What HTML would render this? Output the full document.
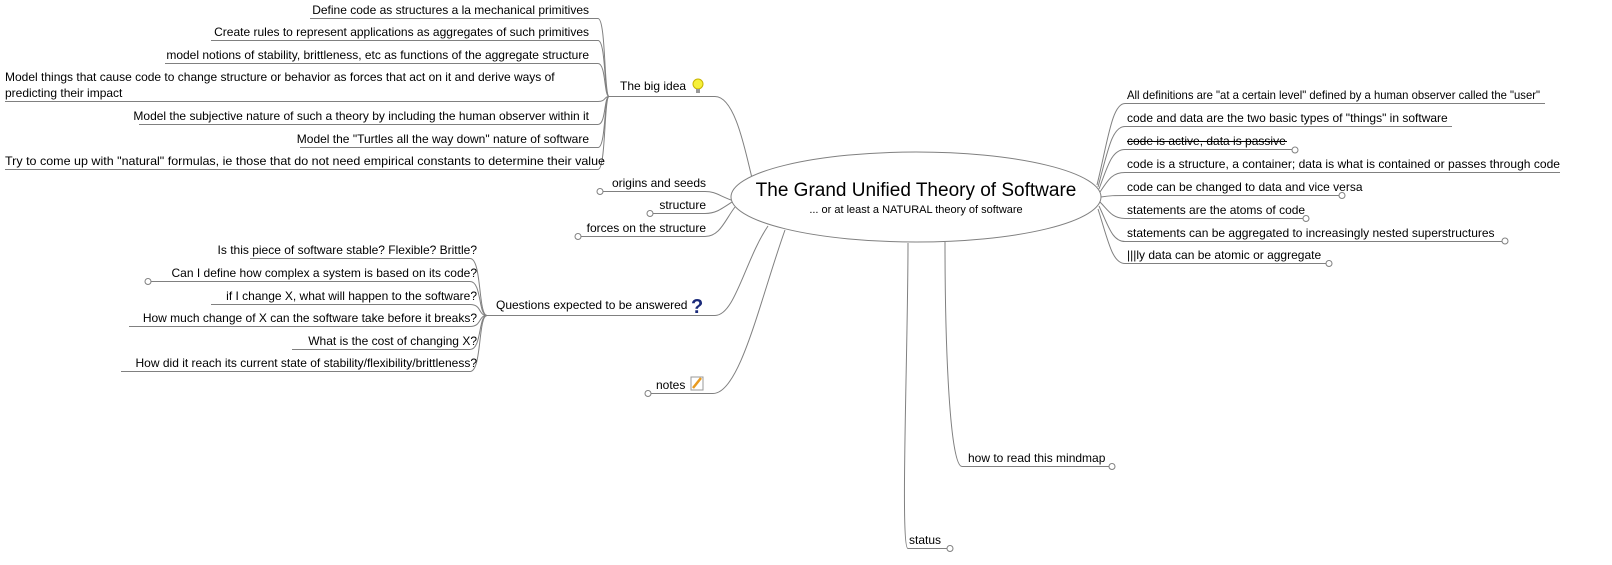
<!DOCTYPE html>
<html><head><meta charset="utf-8"><style>
html,body{margin:0;padding:0;background:#fff;}
svg{display:block;}
text{font-family:"Liberation Sans",Arial,sans-serif;font-size:12px;fill:#000;}
.l{fill:none;stroke:#808080;stroke-width:1;}
.c{fill:#fff;stroke:#808080;stroke-width:1;}
</style></head><body>
<svg width="1612" height="565" viewBox="0 0 1612 565" xmlns="http://www.w3.org/2000/svg">
<g class="l">
<path d="M310,18.5 H598 C606,18.5 604,96.5 609,96.5"/>
<path d="M211,40.5 H598 C606,40.5 604,96.5 609,96.5"/>
<path d="M165,63.5 H598 C606,63.5 604,96.5 609,96.5"/>
<path d="M5,101.5 H598 C606,101.5 604,96.5 609,96.5"/>
<path d="M139,124.5 H598 C606,124.5 604,96.5 609,96.5"/>
<path d="M300,147.5 H598 C606,147.5 604,96.5 609,96.5"/>
<path d="M5,169.5 H598 C606,169.5 604,96.5 609,96.5"/>
<path d="M609,96.5 H715 C735,96.5 745,150 752,178"/>
<path d="M603,191.5 H705 C715,191.5 718,195 731,200"/>
<path d="M653,213.5 H705 C715,213.5 720,210 732,202"/>
<path d="M581,236.5 H705 C720,236.5 725,220 735,207"/>
<path d="M715,315.5 C735,315.5 745,260 768,226"/>
<path d="M487,315.5 H715"/>
<path d="M250,258.5 H470 C482,258.5 478,315.5 487,315.5"/>
<path d="M151,281.5 H470 C482,281.5 478,315.5 487,315.5"/>
<path d="M211,304.5 H470 C482,304.5 478,315.5 487,315.5"/>
<path d="M129,326.5 H470 C482,326.5 478,315.5 487,315.5"/>
<path d="M292,349.5 H470 C482,349.5 478,315.5 487,315.5"/>
<path d="M121,371.5 H470 C482,371.5 478,315.5 487,315.5"/>
<path d="M651,393.5 H713 C740,393.5 760,300 785,230"/>
<path d="M945,242 C945,350 950,466.5 962,466.5 H1109"/>
<path d="M908,243 C908,350 900,548.5 908,548.5 H947"/>
<path d="M1097,185 C1108,140 1112,103.5 1125,103.5 H1545"/>
<path d="M1098,187 C1108,150 1112,126.5 1125,126.5 H1452"/>
<path d="M1099,189 C1108,165 1112,149.5 1125,149.5 H1292"/>
<path d="M1100,192 C1108,180 1112,172.5 1125,172.5 H1560"/>
<path d="M1101,197 C1110,195.5 1115,195.5 1125,195.5 H1339"/>
<path d="M1100,202 C1108,210 1112,218.5 1125,218.5 H1303"/>
<path d="M1099,206 C1108,225 1112,241.5 1125,241.5 H1502"/>
<path d="M1098,209 C1108,240 1112,263.5 1125,263.5 H1326"/>
</g>
<ellipse cx="916" cy="197" rx="185" ry="45" fill="#fff" stroke="#808080"/>
<g class="c">
<circle cx="600" cy="191.5" r="3"/><circle cx="650" cy="213.5" r="3"/><circle cx="578" cy="236.5" r="3"/>
<circle cx="148" cy="281.5" r="3"/><circle cx="648" cy="393.5" r="3"/>
<circle cx="1112" cy="466.5" r="3"/><circle cx="950" cy="548.5" r="3"/>
<circle cx="1295" cy="150" r="3"/><circle cx="1342" cy="195.5" r="3"/><circle cx="1306" cy="218.5" r="3"/>
<circle cx="1505" cy="241" r="3"/><circle cx="1329" cy="263.5" r="3"/>
</g>
<text x="916" y="196" text-anchor="middle" style="font-size:19px">The Grand Unified Theory of Software</text>
<text x="916" y="213" text-anchor="middle" style="font-size:11px">... or at least a NATURAL theory of software</text>
<g text-anchor="end">
<text x="589" y="14">Define code as structures a la mechanical primitives</text>
<text x="589" y="36">Create rules to represent applications as aggregates of such primitives</text>
<text x="589" y="59">model notions of stability, brittleness, etc as functions of the aggregate structure</text>
<text x="589" y="120">Model the subjective nature of such a theory by including the human observer within it</text>
<text x="589" y="143">Model the "Turtles all the way down" nature of software</text>
<text x="706" y="187">origins and seeds</text>
<text x="706" y="209">structure</text>
<text x="706" y="232">forces on the structure</text>
<text x="477" y="254">Is this piece of software stable? Flexible? Brittle?</text>
<text x="477" y="277">Can I define how complex a system is based on its code?</text>
<text x="477" y="300">if I change X, what will happen to the software?</text>
<text x="477" y="322">How much change of X can the software take before it breaks?</text>
<text x="477" y="345">What is the cost of changing X?</text>
<text x="477" y="367">How did it reach its current state of stability/flexibility/brittleness?</text>
</g>
<text x="5" y="165" textLength="600" lengthAdjust="spacingAndGlyphs">Try to come up with "natural" formulas, ie those that do not need empirical constants to determine their value</text>
<text x="5" y="81">Model things that cause code to change structure or behavior as forces that act on it and derive ways of</text>
<text x="5" y="97">predicting their impact</text>
<text x="620" y="90">The big idea</text>
<circle cx="698" cy="84" r="5" fill="#f6f03a" stroke="#c8b400"/><rect x="696" y="89" width="4" height="4" fill="#999"/>
<text x="496" y="309">Questions expected to be answered</text>
<text x="691" y="313" style="font-size:20px;font-weight:bold;fill:#1a2a7a">?</text>
<text x="656" y="389">notes</text>
<rect x="691" y="377" width="12" height="13" fill="#fff" stroke="#999"/><path d="M693,388 L701,378" stroke="#e89a20" stroke-width="2.5"/>
<text x="968" y="462">how to read this mindmap</text>
<text x="909" y="544">status</text>
<text x="1127" y="99" textLength="413" lengthAdjust="spacingAndGlyphs">All definitions are "at a certain level" defined by a human observer called the "user"</text>
<text x="1127" y="122">code and data are the two basic types of "things" in software</text>
<text x="1127" y="145">code is active, data is passive</text>
<line x1="1127" y1="141.5" x2="1287" y2="141.5" stroke="#000"/>
<text x="1127" y="168" textLength="433" lengthAdjust="spacingAndGlyphs">code is a structure, a container; data is what is contained or passes through code</text>
<text x="1127" y="191">code can be changed to data and vice versa</text>
<text x="1127" y="214">statements are the atoms of code</text>
<text x="1127" y="237">statements can be aggregated to increasingly nested superstructures</text>
<text x="1127" y="259">|||ly data can be atomic or aggregate</text>
</svg>
</body></html>
